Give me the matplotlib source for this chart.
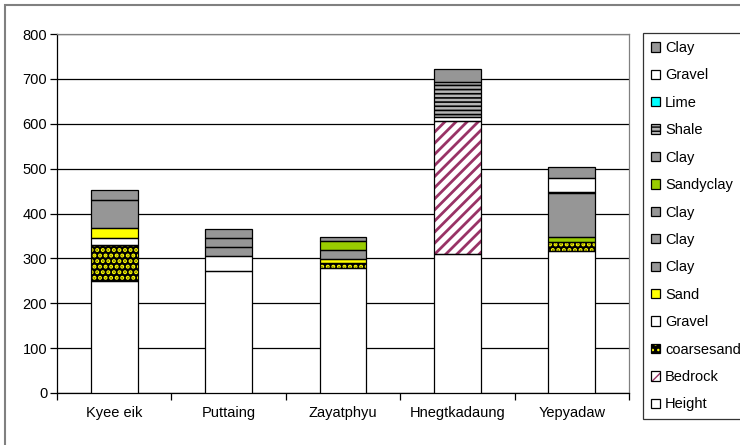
import matplotlib
matplotlib.use("Agg")
import matplotlib.pyplot as plt
import matplotlib.patches as mpatches
from matplotlib.legend_handler import HandlerTuple
import numpy as np

plt.rcParams['font.family'] = ['Liberation Sans', 'DejaVu Sans']

# Sites along the section
categories = ['Kyee eik', 'Puttaing', 'Zayatphyu', 'Hnegtkadaung', 'Yepyadaw']

# Layer thicknesses, listed from the bottom of each column upward
height       = [250, 272, 279, 310, 317]
bedrock      = [0, 0, 0, 297, 0]
coarsesand   = [80, 0, 10, 0, 19]
gravel_low   = [15, 33, 0, 7, 0]
sand         = [23, 0, 9, 0, 0]
clay_1       = [62, 21, 21, 0, 0]
clay_2       = [22, 19, 0, 0, 0]
clay_3       = [0, 20, 0, 0, 0]
sandyclay    = [0, 0, 20, 0, 11]
clay_4       = [0, 0, 8, 0, 99]
shale        = [0, 0, 0, 80, 2]
lime         = [0, 0, 0, 0, 0]
gravel_high  = [0, 0, 0, 0, 30]
clay_5       = [0, 0, 0, 27, 26]

yticks = [0, 100, 200, 300, 400, 500, 600, 700, 800]

# (label, values, face colour, hatch, hatch colour, hatch width)
layers = [
    ('Height', height, 'white', None, 'black', 1.0),
    ('Bedrock', bedrock, 'white', '///', '#993366', 2.0),
    ('coarsesand', coarsesand, 'black', '...', '#ffff00', 2.0),
    ('Gravel', gravel_low, 'white', None, 'black', 1.0),
    ('Sand', sand, '#ffff00', None, 'black', 1.0),
    ('Clay', clay_1, '#969696', None, 'black', 1.0),
    ('Clay', clay_2, '#969696', None, 'black', 1.0),
    ('Clay', clay_3, '#969696', None, 'black', 1.0),
    ('Sandyclay', sandyclay, '#99cc00', None, 'black', 1.0),
    ('Clay', clay_4, '#969696', None, 'black', 1.0),
    ('Shale', shale, '#b4b4b4', '----', 'black', 1.2),
    ('Lime', lime, '#00ffff', None, 'black', 1.0),
    ('Gravel', gravel_high, 'white', None, 'black', 1.0),
    ('Clay', clay_5, '#969696', None, 'black', 1.0),
]

FS = 10.5

fig = plt.figure(figsize=(7.4, 4.45), dpi=100)
ax = fig.add_axes([57 / 740, 1 - 393 / 445, (629 - 57) / 740, (393 - 34) / 445])

x = np.arange(len(categories))
width = 0.41
bottom = np.zeros(len(categories))
handles = []
for label, vals, face, hatch, hcol, hlw in layers:
    vals = np.array(vals, dtype=float)
    with plt.rc_context({'hatch.linewidth': hlw}):
        fill = ax.bar(x, vals, width, bottom=bottom, color=face, hatch=hatch,
                      edgecolor=hcol, linewidth=0, zorder=3)
        for p in fill.patches:
            if hasattr(p, 'set_hatch_linewidth'):
                p.set_hatch_linewidth(hlw)
        outline = ax.bar(x, vals, width, bottom=bottom, fill=False,
                         edgecolor='black', linewidth=0.9, zorder=4)
        for p, v in zip(list(fill.patches) + list(outline.patches), list(vals) * 2):
            if v <= 0:
                p.set_visible(False)
        h_fill = mpatches.Patch(facecolor=face, hatch=hatch, edgecolor=hcol, linewidth=0)
        if hasattr(h_fill, 'set_hatch_linewidth'):
            h_fill.set_hatch_linewidth(min(hlw, 1.2))
    h_edge = mpatches.Patch(fill=False, edgecolor='black', linewidth=0.9)
    handles.append(((h_fill, h_edge), label))
    bottom += vals

ax.set_xlim(-0.5, len(categories) - 0.5)
ax.set_ylim(0, 800)
ax.set_yticks(yticks)
ax.set_yticklabels([str(t) for t in yticks])
ax.set_xticks(x)
ax.set_xticklabels(categories)
ax.set_xticks(np.arange(len(categories) + 1) - 0.5, minor=True)
ax.tick_params(axis='x', which='major', length=0, pad=9, labelsize=FS)
ax.tick_params(axis='x', which='minor', length=5, width=0.9, direction='out')
ax.tick_params(axis='y', length=5, width=0.9, direction='out', pad=2, labelsize=FS)
ax.yaxis.grid(True, color='black', linewidth=0.9, zorder=0)
ax.set_axisbelow(True)
for side in ('left', 'bottom'):
    ax.spines[side].set_color('black')
    ax.spines[side].set_linewidth(0.9)
for side in ('top', 'right'):
    ax.spines[side].set_color('#808080')
    ax.spines[side].set_linewidth(0.9)

leg_handles = [h for h, _ in handles][::-1]
leg_labels = [l for _, l in handles][::-1]
leg = fig.legend(leg_handles, leg_labels, loc='upper left',
                 bbox_to_anchor=(643 / 740, 1 - 33 / 445), borderaxespad=0,
                 handler_map={tuple: HandlerTuple(ndivide=1)},
                 fontsize=FS, frameon=True, fancybox=False, edgecolor='black',
                 handlelength=0.6, handleheight=0.6, handletextpad=0.35,
                 labelspacing=0.92, borderpad=0.55)
leg.get_frame().set_linewidth(0.9)

# Chart-area border
fig.patches.append(mpatches.Rectangle((5 / 740, -0.1), 1.2, 1 - 5 / 445 + 0.1,
                                      transform=fig.transFigure, fill=False,
                                      edgecolor='#808080', linewidth=1.5))

fig.savefig('out.png', dpi=100)
